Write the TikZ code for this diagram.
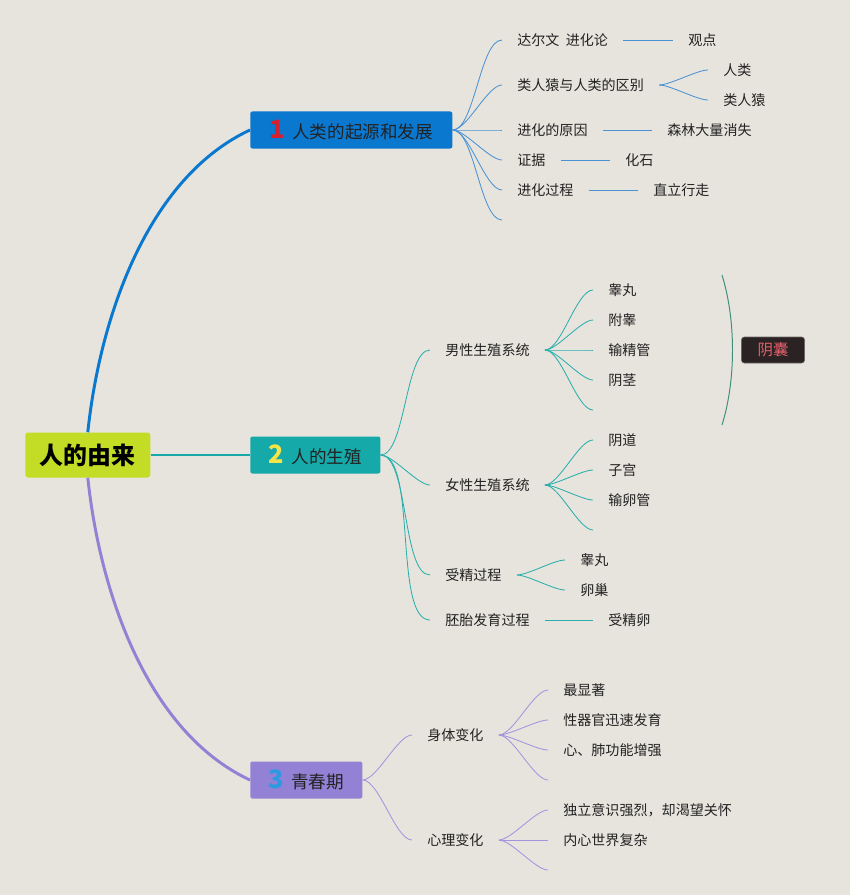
\documentclass[tikz,border=0pt]{standalone}
\usepackage{fontspec}
\setmainfont{Noto Sans CJK SC}
\definecolor{bgcol}{HTML}{E7E4DD}
\definecolor{rootfill}{HTML}{C3DD26}
\definecolor{bluefill}{HTML}{0B78D0}
\definecolor{tealfill}{HTML}{15A9A9}
\definecolor{purplefill}{HTML}{9281D4}
\definecolor{blueleaf}{HTML}{4A92D4}
\definecolor{tealleaf}{HTML}{2AAFAD}
\definecolor{purpleleaf}{HTML}{A394DE}
\definecolor{numred}{HTML}{D4202F}
\definecolor{numyellow}{HTML}{F3E548}
\definecolor{numblue}{HTML}{2A9BE2}
\definecolor{bracecol}{HTML}{3F8F7C}
\definecolor{tagfill}{HTML}{2B2323}
\definecolor{tagtext}{HTML}{E2606C}
\definecolor{inkcol}{HTML}{222222}
\newcommand{\topicnum}[2]{{\color{#1}\bfseries\fontsize{18}{18}\selectfont #2}\hspace{0.18cm}}
\begin{document}
\begin{tikzpicture}[x=0.025cm,y=0.025cm,
  root/.style={fill=rootfill,rounded corners=2pt,minimum width=3.125cm,minimum height=1.125cm,inner sep=0pt,anchor=west,font=\fontsize{17}{20}\selectfont\bfseries},
  topic/.style={rounded corners=1.5pt,minimum height=0.925cm,inner xsep=0.45cm,inner ysep=0pt,anchor=west,text=inkcol,font=\fontsize{12.5}{15}\selectfont},
  leaf/.style={inner xsep=0.375cm,inner ysep=1pt,anchor=west,text=inkcol,font=\fontsize{10}{12}\selectfont},
  tag/.style={fill=tagfill,draw=tagfill!70!white,rounded corners=2pt,minimum width=1.575cm,minimum height=0.65cm,inner sep=0pt,text=tagtext,font=\fontsize{11}{13}\selectfont},
  trunk/.style={line width=2.1pt},
  twig/.style={line width=0.6pt,out=0,in=180,looseness=0.55}]
\fill[bgcol] (0,0) rectangle (850,-895);
% main topics
\node[root] (R) at (25,-455) {人的由来};
\node[topic,fill=bluefill,minimum width=5.05cm] (T1) at (250,-130) {\topicnum{numred}{1}人类的起源和发展};
\node[topic,fill=tealfill,minimum width=3.25cm] (T2) at (250,-455) {\topicnum{numyellow}{2}人的生殖};
\node[topic,fill=purplefill,minimum width=2.8cm] (T3) at (250,-780) {\topicnum{numblue}{3}青春期};
\draw[trunk,bluefill] (R.north) to[out=84,in=205,looseness=0.85] (T1.west);
\draw[trunk,tealfill,line width=1.6pt] (R.east) -- (T2.west);
\draw[trunk,purplefill] (R.south) to[out=-84,in=155,looseness=0.85] (T3.west);
% origin and development
\node[leaf] (darwin) at (502,-40) {达尔文\ \ 进化论};
\node[leaf] (diff) at (502,-85) {类人猿与人类的区别};
\node[leaf] (cause) at (502,-130) {进化的原因};
\node[leaf] (proof) at (502,-160) {证据};
\node[leaf] (process) at (502,-190) {进化过程};
\coordinate (e1) at (502,-220);
\node[leaf] (view) at (673,-40) {观点};
\node[leaf] (human) at (708,-70) {人类};
\node[leaf] (ape) at (708,-100) {类人猿};
\node[leaf] (forest) at (652,-130) {森林大量消失};
\node[leaf] (fossil) at (610,-160) {化石};
\node[leaf] (walk) at (638,-190) {直立行走};
\foreach \n in {darwin,diff,cause,proof,process}
  \draw[twig,blueleaf] (T1.east) to (\n.west);
\draw[twig,blueleaf] (T1.east) to (e1);
\draw[twig,blueleaf] (darwin.east) -- (view.west);
\draw[twig,blueleaf] (diff.east) to (human.west);
\draw[twig,blueleaf] (diff.east) to (ape.west);
\draw[twig,blueleaf] (cause.east) -- (forest.west);
\draw[twig,blueleaf] (proof.east) -- (fossil.west);
\draw[twig,blueleaf] (process.east) -- (walk.west);
% reproduction
\node[leaf] (male) at (430,-350) {男性生殖系统};
\node[leaf] (female) at (430,-485) {女性生殖系统};
\node[leaf] (fert) at (430,-575) {受精过程};
\node[leaf] (embryo) at (430,-620) {胚胎发育过程};
\foreach \n in {male,female,fert,embryo}
  \draw[twig,tealleaf] (T2.east) to (\n.west);
\node[leaf] (testis) at (593,-290) {睾丸};
\node[leaf] (epid) at (593,-320) {附睾};
\node[leaf] (vas) at (593,-350) {输精管};
\node[leaf] (penis) at (593,-380) {阴茎};
\coordinate (e2) at (593,-410);
\foreach \n in {testis,epid,vas,penis}
  \draw[twig,tealleaf] (male.east) to (\n.west);
\draw[twig,tealleaf] (male.east) to (e2);
\node[leaf] (vagina) at (593,-440) {阴道};
\node[leaf] (uterus) at (593,-470) {子宫};
\node[leaf] (tube) at (593,-500) {输卵管};
\coordinate (e3) at (593,-530);
\foreach \n in {vagina,uterus,tube}
  \draw[twig,tealleaf] (female.east) to (\n.west);
\draw[twig,tealleaf] (female.east) to (e3);
\node[leaf] (testisb) at (565,-560) {睾丸};
\node[leaf] (ovary) at (565,-590) {卵巢};
\draw[twig,tealleaf] (fert.east) to (testisb.west);
\draw[twig,tealleaf] (fert.east) to (ovary.west);
\node[leaf] (zygote) at (593,-620) {受精卵};
\draw[twig,tealleaf] (embryo.east) -- (zygote.west);
% bracket with tag
\coordinate (braceTop) at (722,-275);
\coordinate (braceBot) at (722,-425);
\draw[bracecol,line width=0.7pt] (braceTop) .. controls (736,-320) and (736,-380) .. (braceBot);
\node[tag] (scrotum) at (773,-350) {阴囊};
% puberty
\node[leaf] (body) at (412,-735) {身体变化};
\node[leaf] (mind) at (412,-840) {心理变化};
\draw[twig,purpleleaf] (T3.east) to (body.west);
\draw[twig,purpleleaf] (T3.east) to (mind.west);
\node[leaf] (first) at (548,-690) {最显著};
\node[leaf] (organ) at (548,-720) {性器官迅速发育};
\node[leaf] (lung) at (548,-750) {心、肺功能增强};
\coordinate (e4) at (548,-780);
\foreach \n in {first,organ,lung}
  \draw[twig,purpleleaf] (body.east) to (\n.west);
\draw[twig,purpleleaf] (body.east) to (e4);
\node[leaf] (alone) at (548,-810) {独立意识强烈，却渴望关怀};
\node[leaf] (inner) at (548,-840) {内心世界复杂};
\coordinate (e5) at (548,-870);
\draw[twig,purpleleaf] (mind.east) to (alone.west);
\draw[twig,purpleleaf] (mind.east) to (inner.west);
\draw[twig,purpleleaf] (mind.east) to (e5);
\end{tikzpicture}
\end{document}
